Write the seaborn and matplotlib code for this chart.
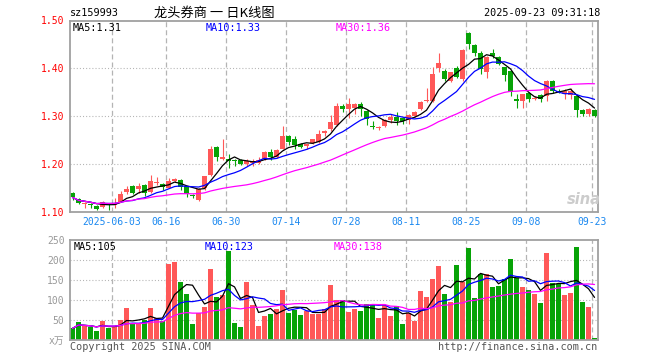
import numpy as np
import pandas as pd
import matplotlib
matplotlib.use("Agg")
import matplotlib.pyplot as plt
import seaborn as sns

# ---------------- data ----------------
opens = [1.140, 1.128, 1.117, 1.117, 1.114, 1.112, 1.117, 1.115, 1.122, 1.142,
         1.155, 1.149, 1.157, 1.143, 1.161, 1.160, 1.150, 1.166, 1.168, 1.154,
         1.136, 1.126, 1.150, 1.177, 1.237, 1.212, 1.211, 1.210, 1.210, 1.201,
         1.203, 1.203, 1.212, 1.225, 1.215, 1.232, 1.260, 1.253, 1.243, 1.238,
         1.245, 1.246, 1.265, 1.273, 1.283, 1.322, 1.315, 1.318, 1.325, 1.311,
         1.281, 1.275, 1.280, 1.292, 1.299, 1.297, 1.292, 1.301, 1.315, 1.332,
         1.332, 1.401, 1.395, 1.374, 1.401, 1.378, 1.473, 1.449, 1.433, 1.392,
         1.432, 1.423, 1.402, 1.395, 1.336, 1.333, 1.348, 1.336, 1.344, 1.343,
         1.374, 1.354, 1.346, 1.344, 1.343, 1.313, 1.304, 1.313]
highs = [1.142, 1.129, 1.122, 1.119, 1.115, 1.124, 1.120, 1.129, 1.145, 1.154,
         1.156, 1.161, 1.158, 1.178, 1.173, 1.162, 1.171, 1.171, 1.169, 1.155,
         1.139, 1.150, 1.176, 1.239, 1.239, 1.252, 1.222, 1.212, 1.211, 1.211,
         1.211, 1.215, 1.227, 1.231, 1.231, 1.280, 1.261, 1.259, 1.245, 1.243,
         1.253, 1.271, 1.272, 1.302, 1.327, 1.325, 1.339, 1.327, 1.329, 1.313,
         1.290, 1.280, 1.294, 1.304, 1.309, 1.299, 1.306, 1.311, 1.332, 1.360,
         1.403, 1.433, 1.398, 1.393, 1.405, 1.440, 1.475, 1.451, 1.437, 1.425,
         1.440, 1.426, 1.403, 1.396, 1.346, 1.347, 1.350, 1.343, 1.346, 1.375,
         1.376, 1.357, 1.358, 1.360, 1.344, 1.315, 1.318, 1.315]
lows = [1.126, 1.117, 1.110, 1.108, 1.105, 1.108, 1.105, 1.108, 1.121, 1.138,
        1.139, 1.140, 1.134, 1.140, 1.156, 1.147, 1.150, 1.163, 1.147, 1.131,
        1.129, 1.124, 1.147, 1.175, 1.208, 1.210, 1.192, 1.197, 1.199, 1.197,
        1.196, 1.201, 1.210, 1.210, 1.213, 1.231, 1.241, 1.232, 1.234, 1.232,
        1.242, 1.245, 1.259, 1.269, 1.280, 1.309, 1.297, 1.304, 1.301, 1.283,
        1.273, 1.271, 1.278, 1.287, 1.283, 1.285, 1.285, 1.299, 1.313, 1.329,
        1.329, 1.392, 1.374, 1.372, 1.380, 1.374, 1.440, 1.426, 1.388, 1.381,
        1.421, 1.407, 1.374, 1.343, 1.318, 1.318, 1.329, 1.334, 1.329, 1.332,
        1.348, 1.348, 1.336, 1.336, 1.299, 1.301, 1.301, 1.299]
closes = [1.131, 1.119, 1.119, 1.115, 1.107, 1.122, 1.116, 1.120, 1.138, 1.149,
          1.140, 1.155, 1.140, 1.166, 1.162, 1.152, 1.166, 1.169, 1.152, 1.138,
          1.134, 1.148, 1.175, 1.232, 1.215, 1.216, 1.208, 1.206, 1.201, 1.206,
          1.206, 1.210, 1.226, 1.215, 1.229, 1.259, 1.246, 1.241, 1.236, 1.243,
          1.253, 1.264, 1.269, 1.288, 1.322, 1.316, 1.325, 1.325, 1.315, 1.294,
          1.278, 1.278, 1.292, 1.299, 1.290, 1.290, 1.302, 1.309, 1.330, 1.334,
          1.388, 1.412, 1.378, 1.392, 1.383, 1.438, 1.451, 1.433, 1.398, 1.423,
          1.425, 1.409, 1.387, 1.351, 1.333, 1.346, 1.336, 1.339, 1.336, 1.374,
          1.354, 1.351, 1.353, 1.353, 1.313, 1.304, 1.316, 1.301]
volumes = [29, 46, 35, 32, 22.5, 47.5, 31, 35, 50, 80,
           43, 42, 50, 80, 54, 48, 190, 195, 145, 115,
           40, 67.5, 83, 178, 107.5, 112.5, 223, 43, 33, 145,
           87.5, 36, 61, 65, 77.5, 125, 68, 75, 63, 73,
           66, 66, 77.5, 137.5, 100, 100, 70, 77.5, 72.5, 90,
           87.5, 55, 87.5, 60, 85, 40, 67.5, 47.5, 122.5, 107.5,
           152.5, 185, 115, 95, 187.5, 145, 230, 105, 165, 165,
           132.5, 135, 152.5, 202.5, 155, 132.5, 125, 115, 92.5, 217.5,
           142.5, 140, 112.5, 117.5, 232.5, 95, 82.5, 5]

date_tick_idx = [7, 16, 26, 36, 46, 56, 66, 76, 87]
date_tick_labels = ["2025-06-03", "06-16", "06-30", "07-14", "07-28",
                    "08-11", "08-25", "09-08", "09-23"]
price_ticks = [1.10, 1.20, 1.30, 1.40, 1.50]
price_tick_labels = ["1.10", "1.20", "1.30", "1.40", "1.50"]
vol_ticks = [0, 50, 100, 150, 200, 250]
vol_tick_labels = ["x万", "50", "100", "150", "200", "250"]

code_text = "sz159993"
title_text = "龙头券商 一 日K线图"
time_text = "2025-09-23 09:31:18"
price_legend = ["MA5:1.31", "MA10:1.33", "MA30:1.36"]
vol_legend = ["MA5:105", "MA10:123", "MA30:138"]
ma_windows = [5, 10, 30]
ma_colors = ["#000000", "#0000ff", "#ff00ff"]

# ---------------- build frame ----------------
df = pd.DataFrame({"open": opens, "high": highs, "low": lows,
                   "close": closes, "volume": volumes})
df["idx"] = np.arange(len(df))
for w in ma_windows:
    df[f"ma{w}"] = df["close"].rolling(w, min_periods=1).mean()
    df[f"vma{w}"] = df["volume"].rolling(w, min_periods=1).mean()
up = df["close"] >= df["open"]
RED, GREEN = "#ff5858", "#07a307"
df["color"] = np.where(up, RED, GREEN)

sns.set_style("white")
plt.rcParams["font.family"] = ["DejaVu Sans Mono", "Noto Sans CJK SC"]
plt.rcParams["lines.scale_dashes"] = False

W, H = 660, 360
fig = plt.figure(figsize=(W / 100, H / 100), dpi=100)
fig.patch.set_facecolor("white")


def rect(l, t, r, b):
    return [l / W, 1 - b / H, (r - l) / W, (b - t) / H]


axp = fig.add_axes(rect(70, 20.5, 598, 212.3))
axv = fig.add_axes(rect(70, 240, 598, 340))

xl = (-0.42, 87.58)
grid_x = [i - 0.42 for i in date_tick_idx]
GRID = "#b4b4b4"

for ax in (axp, axv):
    ax.set_xlim(*xl)
    for gx in grid_x:
        ax.axvline(gx, color=GRID, lw=0.9, linestyle=(0, (3.6, 2.2)), zorder=0)
    for s in ax.spines.values():
        s.set_color("#a0a0a0")
        s.set_linewidth(1.3)
        s.set_zorder(5)

# price panel
axp.set_ylim(1.10, 1.50)
for gy in price_ticks[1:-1]:
    axp.axhline(gy, color=GRID, lw=0.8, linestyle=(0, (0.75, 1.5)), zorder=0)
axp.vlines(df["idx"], df["low"], df["high"], colors=df["color"], lw=0.8, zorder=2)
body_h = np.maximum((df["close"] - df["open"]).abs(), 0.0012)
body_b = np.minimum(df["close"], df["open"])
axp.bar(df["idx"], body_h, bottom=body_b, width=0.8, color=df["color"],
        linewidth=0, zorder=3)
for w, c in zip(ma_windows, ma_colors):
    sns.lineplot(data=df, x="idx", y=f"ma{w}", color=c, lw=0.9, ax=axp, zorder=4)

axp.set_yticks(price_ticks)
axp.set_yticklabels(price_tick_labels)
axp.set_xticks(grid_x)
axp.set_xticklabels(date_tick_labels)
axp.tick_params(axis="y", length=0, pad=4, labelsize=7, labelcolor="#ff0000")
axp.tick_params(axis="x", length=0, pad=3.2, labelsize=7, labelcolor="#1a88f0")
axp.set_xlabel("")
axp.set_ylabel("")

# volume panel
axv.set_ylim(0, 250)
for gy in vol_ticks[1:-1]:
    axv.axhline(gy, color=GRID, lw=0.8, linestyle=(0, (0.75, 1.5)), zorder=0)
axv.bar(df["idx"], df["volume"], width=0.8, color=df["color"], linewidth=0, zorder=2)
for w, c in zip(ma_windows, ma_colors):
    sns.lineplot(data=df, x="idx", y=f"vma{w}", color=c, lw=0.9, ax=axv, zorder=4)
axv.set_yticks(vol_ticks)
axv.set_yticklabels(vol_tick_labels)
axv.set_xticks([])
axv.tick_params(axis="y", length=0, pad=4, labelsize=7, labelcolor="#999999")
axv.set_xlabel("")
axv.set_ylabel("")


def ftext(x, y, s, **kw):
    fig.text(x / W, 1 - y / H, s, va="center", **kw)


ftext(70, 13, code_text, ha="left", fontsize=7.3, color="#000000")
ftext(214, 13, title_text, ha="center", fontsize=9.5, color="#000000",
      family=["Noto Sans CJK SC", "DejaVu Sans"])
ftext(600, 13, time_text, ha="right", fontsize=7.3, color="#000000")

for s, x, c in zip(price_legend, [73, 206, 336], ma_colors):
    ftext(x, 28, s, ha="left", fontsize=7.3, color=c)
for s, x, c in zip(vol_legend, [74, 205, 334], ma_colors):
    ftext(x, 247.5, s, ha="left", fontsize=7.3, color=c)

ftext(70, 346.5, "Copyright 2025 SINA.COM", ha="left", fontsize=7.3, color="#555555")
ftext(597, 346.5, "http://finance.sina.com.cn", ha="right", fontsize=7.3, color="#555555")
ftext(584, 199, "sina", ha="center", fontsize=10.5, color="#cccccc",
      family=["DejaVu Sans"], fontweight="bold", fontstyle="italic", zorder=1)

fig.savefig("out.png", dpi=100, facecolor="white")
